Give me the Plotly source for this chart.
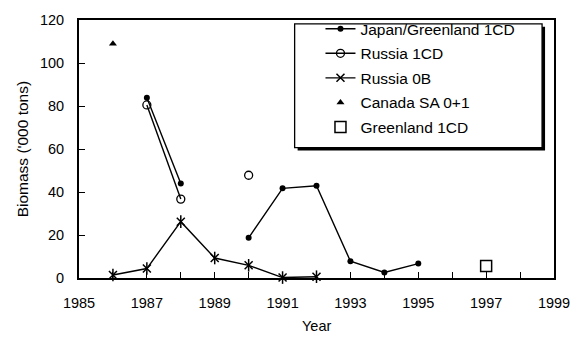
import plotly.graph_objects as go

years = [1985, 1986, 1987, 1988, 1989, 1990, 1991, 1992, 1993, 1994, 1995, 1996, 1997, 1998, 1999]

japan_years = [1987, 1988, 1989, 1990, 1991, 1992, 1993, 1994, 1995]
japan_vals = [83.8, 44.0, None, 18.7, 41.7, 42.9, 7.8, 2.6, 6.7]

russia1cd_years = [1987, 1988, 1989, 1990]
russia1cd_vals = [80.5, 36.7, None, 47.8]

russia0b_years = [1986, 1987, 1988, 1989, 1990, 1991, 1992]
russia0b_vals = [1.4, 4.4, 26.2, 9.3, 5.9, 0.2, 0.6]

canada_years = [1986]
canada_vals = [109.0]

greenland_years = [1997]
greenland_vals = [5.6]

x_tick_vals = [1985, 1987, 1989, 1991, 1993, 1995, 1997, 1999]
y_tick_vals = [0, 20, 40, 60, 80, 100, 120]

FONT = "Liberation Sans, Arial, sans-serif"
BLACK = "#000000"

fig = go.Figure()

fig.add_trace(go.Scatter(
    x=japan_years, y=japan_vals, name="Japan/Greenland 1CD", mode="lines+markers",
    line=dict(color=BLACK, width=1.4), connectgaps=False,
    marker=dict(symbol="circle", size=6, color=BLACK),
    legendgroup="a", cliponaxis=False))
fig.add_trace(go.Scatter(
    x=russia1cd_years, y=russia1cd_vals, name="Russia 1CD", mode="lines+markers",
    line=dict(color=BLACK, width=1.4), connectgaps=False,
    marker=dict(symbol="circle-open", size=8, color=BLACK, line=dict(width=1.3, color=BLACK)),
    legendgroup="b", cliponaxis=False))
fig.add_trace(go.Scatter(
    x=russia0b_years, y=russia0b_vals, name="Russia 0B", mode="lines+markers",
    line=dict(color=BLACK, width=1.4),
    marker=dict(symbol="x-thin-open", size=8, color=BLACK, line=dict(width=1.5, color=BLACK)),
    legendgroup="c", cliponaxis=False))
fig.add_trace(go.Scatter(
    x=russia0b_years, y=russia0b_vals, mode="markers", showlegend=False, hoverinfo="skip",
    marker=dict(symbol="line-ns-open", size=9, color=BLACK, line=dict(width=1.5, color=BLACK)),
    legendgroup="c", cliponaxis=False))
fig.add_trace(go.Scatter(
    x=canada_years, y=canada_vals, name="Canada SA 0+1", mode="markers",
    marker=dict(symbol="triangle-up", size=7, color=BLACK),
    legendgroup="d", cliponaxis=False))
fig.add_trace(go.Scatter(
    x=greenland_years, y=greenland_vals, name="Greenland 1CD", mode="markers",
    marker=dict(symbol="square-open", size=11, color=BLACK, line=dict(width=1.5, color=BLACK)),
    legendgroup="e", cliponaxis=False))

L, R, T, B = 79, 25, 15, 59
W, H = 582, 337
pw, ph = W - L - R, H - T - B

def px(xp):
    return (xp - L) / pw

def py(yp):
    return (H - B - yp) / ph

shapes = [
    dict(type="rect", xref="paper", yref="paper",
         x0=px(299), x1=px(548), y0=py(148), y1=py(22),
         fillcolor=BLACK, line=dict(width=0), layer="above"),
    dict(type="rect", xref="paper", yref="paper",
         x0=px(296), x1=px(545), y0=py(145), y1=py(19),
         fillcolor="white", line=dict(width=1.3, color=BLACK), layer="above"),
]

annotations = [
    dict(text="Year", xref="paper", yref="paper", x=0.5, y=py(327),
         showarrow=False, font=dict(family=FONT, size=14.5, color=BLACK),
         xanchor="center", yanchor="middle"),
    dict(text="Biomass ('000 tons)", xref="paper", yref="paper", x=px(22), y=py(146.5),
         showarrow=False, textangle=-90, font=dict(family=FONT, size=15.5, color=BLACK),
         xanchor="center", yanchor="middle"),
]

fig.update_layout(
    width=W, height=H,
    margin=dict(l=L, r=R, t=T, b=B, pad=0),
    paper_bgcolor="white", plot_bgcolor="white",
    font=dict(family=FONT, size=14.5, color=BLACK),
    showlegend=True,
    legend=dict(x=px(322), y=py(7), xanchor="left", yanchor="top",
                bgcolor="rgba(0,0,0,0)", borderwidth=0,
                font=dict(family=FONT, size=15.5, color=BLACK),
                tracegroupgap=1.4, itemwidth=30),
    shapes=shapes,
    annotations=annotations,
    xaxis=dict(range=[1985, 1999], tickvals=x_tick_vals, ticktext=[str(v) for v in x_tick_vals],
               ticks="inside", ticklen=6, tickwidth=1.3, tickcolor=BLACK,
               minor=dict(tickvals=years, ticks="inside", ticklen=6, tickwidth=1.3, tickcolor=BLACK),
               showline=True, linecolor=BLACK, linewidth=2, mirror=True,
               showgrid=False, zeroline=False, ticklabelstandoff=11,
               tickfont=dict(family=FONT, size=14.5, color=BLACK)),
    yaxis=dict(range=[0, 120], tickvals=y_tick_vals,
               ticks="inside", ticklen=6, tickwidth=1.3, tickcolor=BLACK,
               showline=True, linecolor=BLACK, linewidth=2, mirror=True,
               showgrid=False, zeroline=False, ticklabelstandoff=10,
               tickfont=dict(family=FONT, size=14.5, color=BLACK)),
)

fig.write_html("out.html", config={"displayModeBar": False},
               post_script="document.body.style.margin='0';document.body.style.padding='0';")
